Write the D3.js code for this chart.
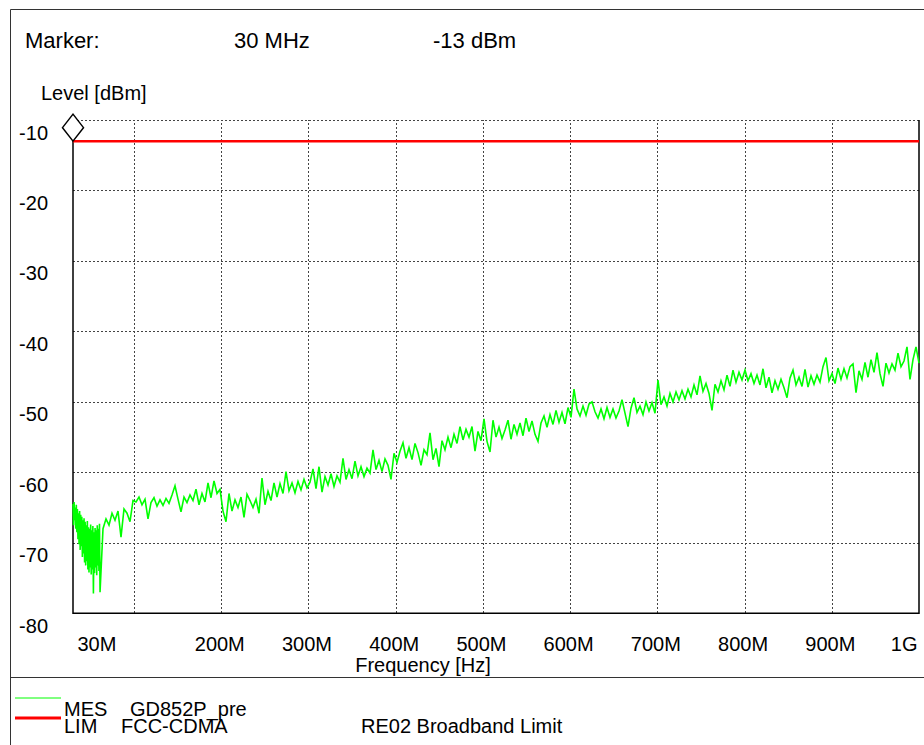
<!DOCTYPE html>
<html>
<head>
<meta charset="utf-8">
<script src="https://cdn.jsdelivr.net/npm/d3@7"></script>
<style>
  html, body { margin: 0; padding: 0; background: #fff; }
  svg { display: block; }
  text { font-family: "Liberation Sans", Arial, Helvetica, sans-serif; fill: #000; }
</style>
</head>
<body>
<svg id="chart" width="924" height="745"></svg>
<script>
// ---------------- data ----------------
const freqStartMHz = 30;
const freqStopMHz = 1000;
const xGridValues = [100, 200, 300, 400, 500, 600, 700, 800, 900];
const xTickValues = [30, 200, 300, 400, 500, 600, 700, 800, 900, 1000];
const xTickLabels = ["30M", "200M", "300M", "400M", "500M", "600M", "700M", "800M", "900M", "1G"];
const yTickValues = [-10, -20, -30, -40, -50, -60, -70, -80];
const yTickLabels = ["-10", "-20", "-30", "-40", "-50", "-60", "-70", "-80"];
const limitLevel = -13;          // FCC-CDMA RE02 broadband limit (dBm)
const markerFreq = 30;           // MHz
const markerLevel = -13;         // dBm
const headerTexts = ["Marker:", "30 MHz", "-13 dBm"];
const legendParts = [["MES", "GD852P_pre"], ["LIM", "FCC-CDMA"]];
const legendExtra = "RE02 Broadband Limit";

// measured trace (dBm), read from the plot
// dense part of the sweep: 30 .. 61 MHz
const denseFromMHz = 30, denseToMHz = 61;
const levelsDense = [
  -64.5,-67.5,-64.2,-66.8,-65.0,-68.0,
  -64.6,-68.5,-65.2,-69.5,-65.8,-70.2,
  -65.5,-71.0,-66.0,-70.5,-66.3,-72.0,
  -66.8,-71.5,-66.5,-72.8,-67.0,-73.2,
  -67.5,-72.6,-66.9,-73.8,-67.8,-74.2,
  -68.0,-73.5,-67.4,-74.5,-68.2,-73.8,
  -67.6,-77.2,-68.5,-74.3,-67.9,-73.5,
  -68.2,-74.6,-67.5,-73.2,-68.0,-74.0,
  -67.3,-77.0
];
// rest of the sweep: 64.4 MHz .. 1 GHz
const sweepFromMHz = 64.4, sweepToMHz = 1000;
const levelsSweep = [
  -68.0,-66.6,-67.5,-65.8,-66.8,-65.5,-69.2,-65.2,-65.8,-67.0,-64.0,
  -64.2,-63.5,-64.6,-63.8,-66.6,-64.3,-63.6,-64.8,-63.9,-64.7,
  -63.7,-64.4,-63.2,-61.9,-63.8,-65.6,-63.5,-64.3,-63.2,-64.0,
  -62.4,-64.6,-63.0,-64.2,-61.5,-63.6,-61.2,-63.0,-62.4,
  -65.5,-67.0,-63.0,-65.5,-63.9,-65.0,-63.5,-66.4,-63.1,-64.0,
  -65.0,-63.8,-65.8,-60.8,-64.6,-62.7,-64.0,-61.5,-63.5,-61.6,
  -63.0,-59.9,-62.6,-61.5,-62.9,-61.3,-62.5,-61.0,-62.2,-61.4,
  -59.5,-62.3,-59.2,-62.8,-60.6,-61.8,-60.2,-62.0,-60.5,-61.4,
  -58.0,-61.0,-59.6,-60.9,-58.4,-60.5,-59.2,-60.6,-59.4,-60.1,
  -56.8,-59.6,-58.3,-59.9,-58.1,-59.0,-61.0,-57.3,-58.6,-57.0,
  -55.8,-58.0,-56.5,-58.2,-55.9,-57.2,-59.0,-56.8,
  -57.5,-54.4,-58.2,-56.6,-59.2,-55.5,-56.8,-55.0,-56.5,-54.6,
  -55.9,-53.5,-55.4,-53.9,-55.0,-53.5,-57.0,-54.2,-55.5,-52.4,
  -55.6,-57.1,-52.6,-55.0,-53.6,-55.2,-54.0,-52.6,-55.3,-53.2,
  -54.6,-53.0,-54.8,-52.3,-54.2,-52.7,-54.6,-55.6,-53.0,-52.0,
  -53.6,-51.8,-53.2,-51.2,-52.9,-51.5,-53.1,-50.8,-52.2,-48.2,
  -51.0,-52.0,-50.6,-51.9,-50.3,-50.0,-51.4,
  -52.3,-51.0,-52.4,-50.8,-52.2,-51.0,-52.3,-51.3,-49.7,-51.6,
  -53.5,-50.9,-49.4,-51.5,-50.6,-51.8,-50.0,-51.3,-50.1,-51.6,
  -46.9,-50.4,-49.3,-50.6,-48.8,-50.0,-48.6,-49.7,-48.4,-49.6,
  -48.2,-49.3,-47.6,-49.0,-46.3,-48.5,-47.4,-48.8,-51.2,-47.5,
  -48.6,-47.0,-48.3,-46.2,-47.8,-45.5,-47.2,-45.8,-46.9,-45.5,-47.0,
  -46.0,-47.4,-46.2,-47.6,-45.3,-48.0,-46.5,-48.7,-47.0,-48.2,
  -46.8,-48.0,-49.4,-46.6,-45.5,-47.6,-46.5,-47.8,-45.4,-47.9,
  -46.3,-47.5,-46.2,-47.2,-45.0,-43.7,-47.0,-46.0,-47.4,-45.2,
  -46.8,-45.3,-46.6,-45.0,-44.6,-48.7,-45.6,-46.8,-44.4,-46.5,
  -44.0,-45.8,-43.0,-46.0,-47.8,-44.5,-45.9,-44.6,-45.5,-43.1,
  -45.0,-44.2,-42.2,-46.8,-44.0,-42.2,-44.5
];
const sweepPoints = (from, to, vals) =>
  vals.map((v, i) => ({ f: from + i * (to - from) / (vals.length - 1), v }));
const trace = sweepPoints(denseFromMHz, denseToMHz, levelsDense)
  .concat(sweepPoints(sweepFromMHz, sweepToMHz, levelsSweep));

// ---------------- layout ----------------
const svg = d3.select("#chart");
const plot = { left: 73, right: 919, top: 120, bottom: 613.3 };
const FS = 20;

const x = d3.scaleLinear().domain([freqStartMHz, freqStopMHz]).range([plot.left, plot.right]);
const y = d3.scaleLinear().domain([-80, -10]).range([plot.bottom, plot.top]);

// outer frame
svg.append("path")
  .attr("d", `M10.5,760 V9.5 H930`)
  .attr("fill", "none").attr("stroke", "#333").attr("stroke-width", 1);
svg.append("line")
  .attr("x1", 10).attr("x2", 924).attr("y1", 677.5).attr("y2", 677.5)
  .attr("stroke", "#333").attr("stroke-width", 1);

// header
const hx = [25, 234, 433];
svg.selectAll("text.hdr").data(headerTexts).join("text")
  .attr("class", "hdr")
  .attr("x", (d, i) => hx[i]).attr("y", 48)
  .attr("font-size", 22)
  .text(d => d);

svg.append("text").attr("x", 41).attr("y", 100).attr("font-size", FS).text("Level [dBm]");

// grid (vertical)
const gridX = svg.append("g")
  .attr("transform", `translate(0,${plot.bottom})`)
  .call(d3.axisBottom(x).tickValues(xGridValues).tickSize(-(plot.bottom - plot.top)).tickFormat(""));
gridX.select(".domain").remove();
gridX.selectAll("line").attr("stroke", "#444").attr("stroke-width", 1).attr("stroke-dasharray", "2,2")
  .attr("shape-rendering", "crispEdges");

// grid (horizontal, includes dotted top edge)
const gridY = svg.append("g")
  .attr("transform", `translate(${plot.left},0)`)
  .call(d3.axisLeft(y).tickValues(yTickValues.filter(v => v > -80)).tickSize(-(plot.right - plot.left)).tickFormat(""));
gridY.select(".domain").remove();
gridY.selectAll("line").attr("stroke", "#444").attr("stroke-width", 1).attr("stroke-dasharray", "2,2")
  .attr("shape-rendering", "crispEdges");

// y labels
const yAxis = svg.append("g")
  .attr("transform", `translate(${plot.left},0)`)
  .call(d3.axisLeft(y).tickValues(yTickValues).tickSize(0).tickPadding(25)
    .tickFormat((d, i) => yTickLabels[i]));
yAxis.select(".domain").remove();
yAxis.attr("font-family", null).attr("font-size", null);
yAxis.selectAll("text")
  .attr("font-size", FS).attr("dy", null).attr("y", 19).attr("fill", "#000");

// x labels
const xAxis = svg.append("g")
  .attr("transform", `translate(0,${plot.bottom})`)
  .call(d3.axisBottom(x).tickValues(xTickValues).tickSize(0).tickPadding(0)
    .tickFormat((d, i) => xTickLabels[i]));
xAxis.select(".domain").remove();
xAxis.attr("font-family", null).attr("font-size", null);
xAxis.selectAll("text")
  .attr("font-size", FS).attr("dy", null).attr("y", 38).attr("fill", "#000")
  .attr("text-anchor", (d, i) => i === 0 ? "start" : (i === xTickValues.length - 1 ? "end" : "middle"))
  .attr("x", (d, i) => i === 0 ? 4 : (i === xTickValues.length - 1 ? -2 : -2));

svg.append("text").attr("x", 423).attr("y", 672).attr("text-anchor", "middle")
  .attr("font-size", FS).text("Frequency [Hz]");

// plot edges (solid left, bottom, right)
svg.append("path")
  .attr("d", `M${plot.left},${plot.top} V${plot.bottom} H${plot.right} V${plot.top}`)
  .attr("fill", "none").attr("stroke", "#000").attr("stroke-width", 1.5);

// measured trace
const line = d3.line().x(d => x(d.f)).y(d => y(d.v));
svg.append("path")
  .datum(trace)
  .attr("d", line)
  .attr("fill", "none").attr("stroke", "#00ff00").attr("stroke-width", 1.6)
  .attr("stroke-linejoin", "miter");

// limit line
svg.append("line")
  .attr("x1", x(freqStartMHz)).attr("x2", x(freqStopMHz))
  .attr("y1", y(limitLevel)).attr("y2", y(limitLevel))
  .attr("stroke", "#ff0000").attr("stroke-width", 2.5);

// marker diamond (bottom vertex on marker point)
const mx = x(markerFreq), my = y(markerLevel);
svg.append("path")
  .attr("d", `M${mx},${my} L${mx + 10.5},${my - 13.5} L${mx},${my - 27} L${mx - 10.5},${my - 13.5} Z`)
  .attr("fill", "#fff").attr("stroke", "#000").attr("stroke-width", 1.5);

// legend
svg.append("line").attr("x1", 15).attr("x2", 61).attr("y1", 698).attr("y2", 698)
  .attr("stroke", "#00ff00").attr("stroke-width", 1);
svg.append("line").attr("x1", 15).attr("x2", 61).attr("y1", 718).attr("y2", 718)
  .attr("stroke", "#ff0000").attr("stroke-width", 3);
const legX2 = [130, 121];
legendParts.forEach((p, i) => {
  svg.append("text").attr("x", 64).attr("y", 716 + i * 17).attr("font-size", FS).text(p[0]);
  svg.append("text").attr("x", legX2[i]).attr("y", 716 + i * 17).attr("font-size", FS).text(p[1]);
});
svg.append("text").attr("x", 361).attr("y", 733).attr("font-size", FS).text(legendExtra);
</script>
</body>
</html>
